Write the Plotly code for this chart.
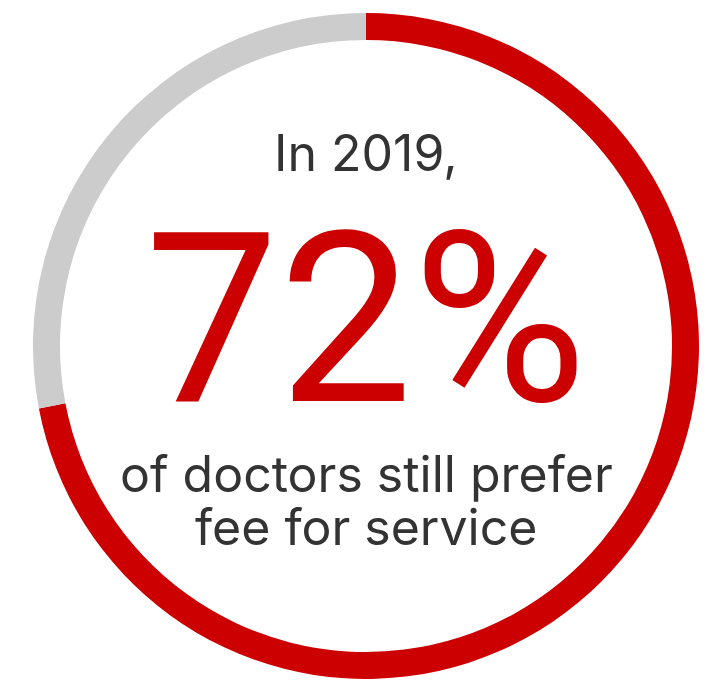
import plotly.graph_objects as go

labels = ["Prefer fee for service", "Other"]
values = [72, 28]
colors = ["#cc0000", "#cccccc"]

year_text = "In 2019,"
big_text = "72%"
sub_lines = ["of doctors still prefer", "fee for service"]

fig = go.Figure(go.Pie(
    labels=labels, values=values, hole=0.919, sort=False,
    direction="clockwise", rotation=0,
    marker=dict(colors=colors, line=dict(width=0)),
    textinfo="none", hoverinfo="skip", showlegend=False,
))

fig.add_annotation(text=year_text, x=0.5, y=0.790, xref="paper", yref="paper",
                   showarrow=False, xanchor="center", yanchor="middle",
                   font=dict(family="Inter, sans-serif", size=50, color="#333333"))
fig.add_annotation(text=big_text, x=0.5, y=0.540, xref="paper", yref="paper",
                   showarrow=False, xanchor="center", yanchor="middle",
                   font=dict(family="Roboto, sans-serif", size=238, color="#cc0000"))
for line, yy in zip(sub_lines, [0.3078, 0.2282]):
    fig.add_annotation(text=line, x=0.5, y=yy, xref="paper", yref="paper",
                       showarrow=False, xanchor="center", yanchor="middle",
                       font=dict(family="Inter, sans-serif", size=50, color="#333333"))

fig.update_layout(width=716, height=685, margin=dict(l=33, r=17, t=13, b=6),
                  paper_bgcolor="white", plot_bgcolor="white")
fig.write_html("out.html")
